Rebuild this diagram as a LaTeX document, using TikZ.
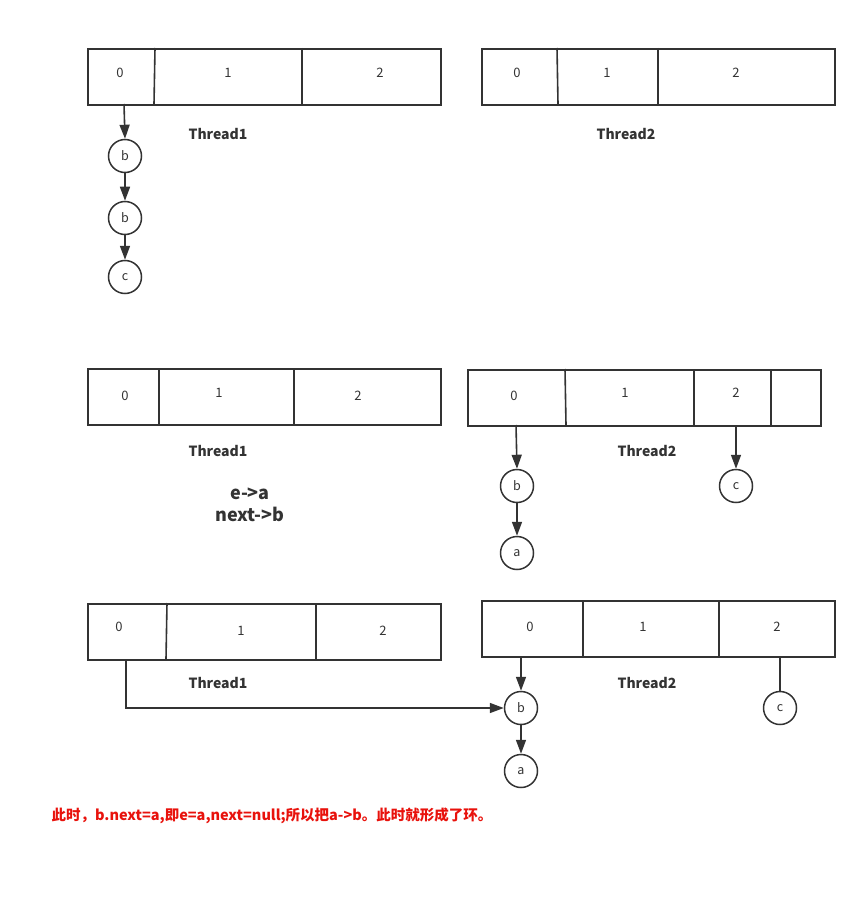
\documentclass[tikz,border=0pt]{standalone}
\usepackage{fontspec}
\setmainfont{Noto Sans CJK SC}
\usetikzlibrary{arrows.meta}
\definecolor{ink}{HTML}{333333}
\definecolor{redtxt}{HTML}{E8120C}
\tikzset{
  boxline/.style={draw=ink, line width=1.6pt},
  divline/.style={draw=ink, line width=1.6pt},
  cell/.style={font=\fontsize{13}{15}\selectfont, text=ink},
  nodecirc/.style={circle, draw=ink, line width=1.5pt, minimum size=33pt, inner sep=0pt, font=\fontsize{12.5}{14}\selectfont, text=ink},
  thr/.style={font=\bfseries\fontsize{14}{16}\selectfont, text=ink},
  arr/.style={draw=ink, line width=1.6pt, -{Triangle[length=14pt,width=10pt]}},
  plain/.style={draw=ink, line width=1.6pt},
}
\begin{document}
\begin{tikzpicture}[x=1pt,y=-1pt]
\useasboundingbox (0,0) rectangle (866,901);

% ---------- Row 1 ----------
\node[boxline, rectangle, minimum width=353pt, minimum height=56pt, inner sep=0pt, anchor=north west] (r1a) at (87,48) {};
\draw[divline] (155,48) -- (154,104);
\draw[divline] (302,48) -- (302,104);
\node[cell] (r1a0) at (120,73) {0};
\node[cell] (r1a1) at (228,73) {1};
\node[cell] (r1a2) at (380,73) {2};

\node[boxline, rectangle, minimum width=353pt, minimum height=56pt, inner sep=0pt, anchor=north west] (r1b) at (481,48) {};
\draw[divline] (557,48) -- (558,104);
\draw[divline] (658,48) -- (658,104);
\node[cell] (r1b0) at (517,73) {0};
\node[cell] (r1b1) at (607,73) {1};
\node[cell] (r1b2) at (736,73) {2};

\node[thr] (r1t1) at (218,134) {Thread1};
\node[thr] (r1t2) at (626,134) {Thread2};

\node[nodecirc] (r1n1) at (125,156) {b};
\node[nodecirc] (r1n2) at (125,218) {b};
\node[nodecirc] (r1n3) at (125,277) {c};
\coordinate (r1s) at (124,104);
\draw[arr] (r1s) -- (r1n1.north);
\draw[arr] (r1n1) -- (r1n2);
\draw[arr] (r1n2) -- (r1n3);

% ---------- Row 2 ----------
\node[boxline, rectangle, minimum width=353pt, minimum height=56pt, inner sep=0pt, anchor=north west] (r2a) at (87,368) {};
\draw[divline] (159,368) -- (159,424);
\draw[divline] (294,368) -- (294,424);
\node[cell] (r2a0) at (125,396) {0};
\node[cell] (r2a1) at (219,393) {1};
\node[cell] (r2a2) at (358,396) {2};

\node[boxline, rectangle, minimum width=353pt, minimum height=56pt, inner sep=0pt, anchor=north west] (r2b) at (467,369) {};
\draw[divline] (565,369) -- (566,425);
\draw[divline] (694,369) -- (694,425);
\draw[divline] (771,369) -- (771,425);
\node[cell] (r2b0) at (514,396) {0};
\node[cell] (r2b1) at (625,393) {1};
\node[cell] (r2b2) at (736,393) {2};

\node[thr] (r2t1) at (218,451) {Thread1};
\node[thr] (r2t2) at (647,451) {Thread2};

\node[font=\bfseries\fontsize{18}{21.5}\selectfont, text=ink, align=center] (r2note) at (250,505) {e->a\\next->b};

\node[nodecirc] (r2nb) at (517,486) {b};
\node[nodecirc] (r2na) at (517,553) {a};
\node[nodecirc] (r2nc) at (736,486) {c};
\coordinate (r2s0) at (516,425);
\coordinate (r2s2) at (736,425);
\draw[arr] (r2s0) -- (r2nb.north);
\draw[arr] (r2nb) -- (r2na);
\draw[arr] (r2s2) -- (r2nc.north);

% ---------- Row 3 ----------
\node[boxline, rectangle, minimum width=353pt, minimum height=56pt, inner sep=0pt, anchor=north west] (r3a) at (87,603) {};
\draw[divline] (167,603) -- (166,659);
\draw[divline] (316,603) -- (316,659);
\node[cell] (r3a0) at (119,627) {0};
\node[cell] (r3a1) at (241,631) {1};
\node[cell] (r3a2) at (383,631) {2};

\node[boxline, rectangle, minimum width=353pt, minimum height=56pt, inner sep=0pt, anchor=north west] (r3b) at (481,600) {};
\draw[divline] (583,600) -- (583,656);
\draw[divline] (719,600) -- (719,658);
\node[cell] (r3b0) at (530,627) {0};
\node[cell] (r3b1) at (643,627) {1};
\node[cell] (r3b2) at (777,627) {2};

\node[thr] (r3t1) at (218,683) {Thread1};
\node[thr] (r3t2) at (647,683) {Thread2};

\node[nodecirc] (r3nb) at (521,708) {b};
\node[nodecirc] (r3na) at (521,771) {a};
\node[nodecirc] (r3nc) at (780,708) {c};
\coordinate (r3s1) at (126,659);
\coordinate (r3s0) at (521,656);
\coordinate (r3s2) at (780,656);
\draw[arr] (r3s1) |- (r3nb.west);
\draw[arr] (r3s0) -- (r3nb.north);
\draw[arr] (r3nb) -- (r3na);
\draw[plain] (r3s2) -- (r3nc.north);

\node[anchor=west, text=redtxt, font=\bfseries\fontsize{14.5}{17}\selectfont] (note) at (48,816) {此时，b.next=a,即e=a,next=null;所以把a->b。此时就形成了环。};
\end{tikzpicture}
\end{document}
